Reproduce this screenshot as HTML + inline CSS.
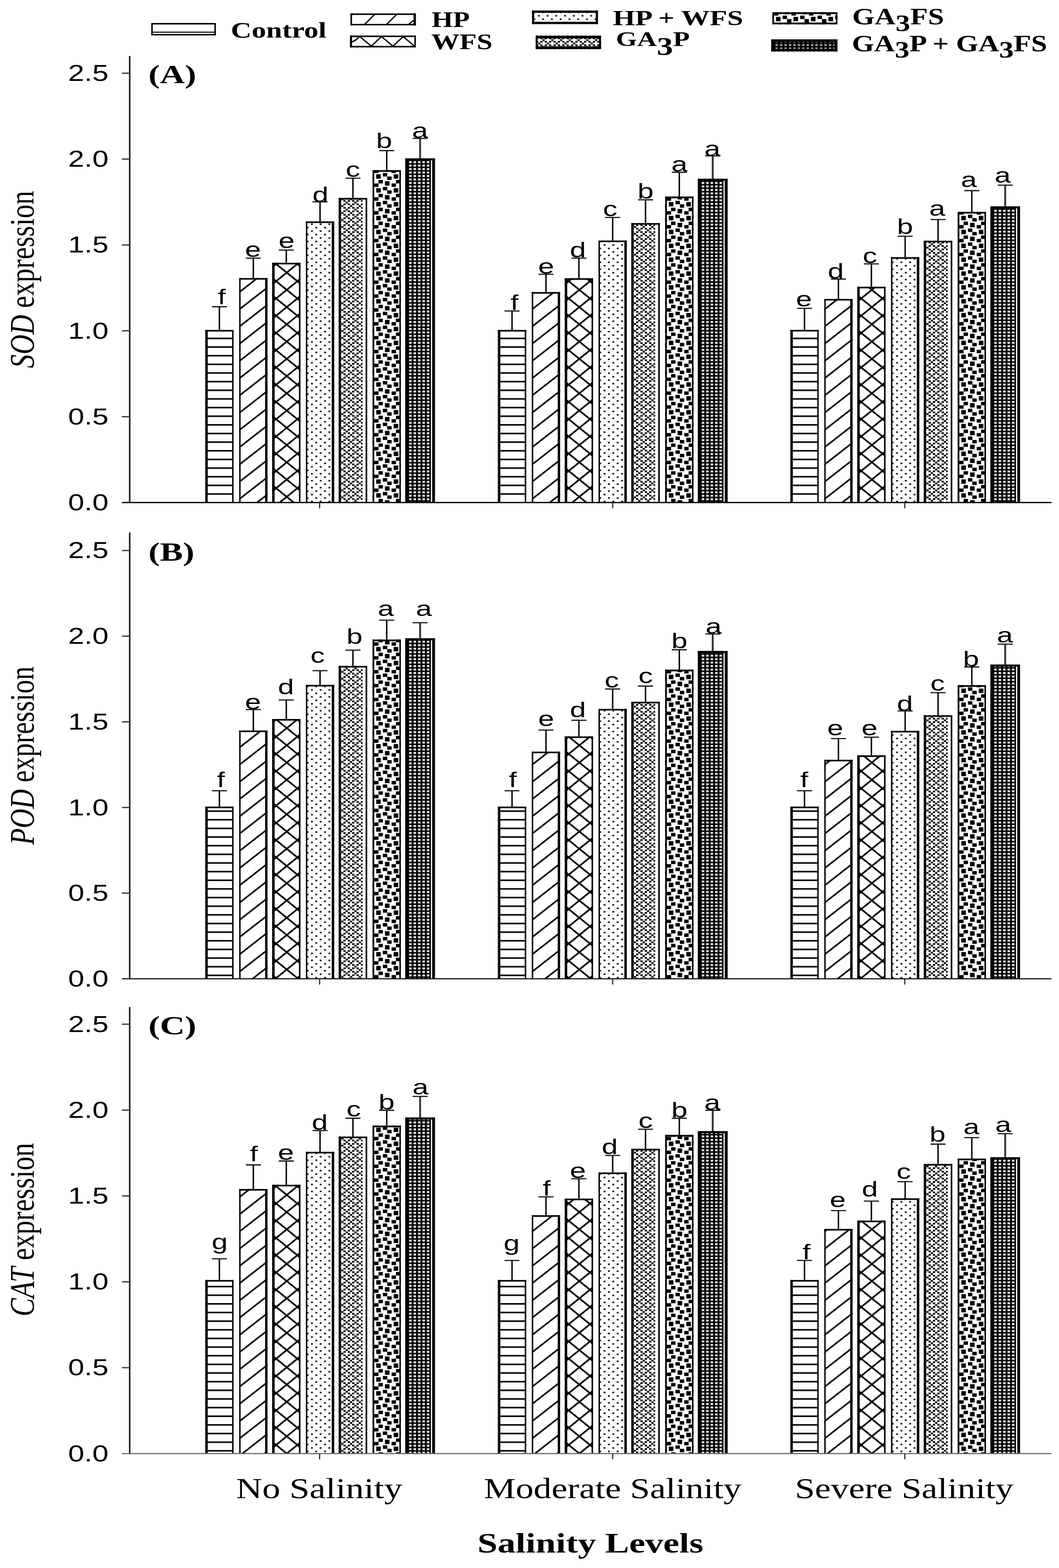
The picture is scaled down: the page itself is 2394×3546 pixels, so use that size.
<!DOCTYPE html>
<html lang="en"><head><meta charset="utf-8"><title>Antioxidant gene expression under salinity</title>
<style>html,body{margin:0;padding:0;background:#fff}svg{display:block}text{fill:#000}</style></head><body>
<svg width="2394" height="3546" viewBox="0 0 2394 3546">
<rect width="2394" height="3546" fill="#fff"/>
<defs>
<filter id="soft" filterUnits="userSpaceOnUse" x="0" y="0" width="2394" height="3546" color-interpolation-filters="sRGB"><feGaussianBlur stdDeviation="0.6"/></filter>
<pattern id="p0" patternUnits="userSpaceOnUse" x="0" y="-1.50" width="20" height="19.55"><rect x="0" y="0" width="20" height="3.5" fill="#000"/></pattern>
<pattern id="p1" patternUnits="userSpaceOnUse" x="0" y="-7.50" width="50.0" height="39.0"><path d="M-50.0,39.0 L50.0,-39.0 M0,39.0 L50.0,0 M0,78.0 L100.0,0" stroke="#000" stroke-width="3.7" fill="none"/></pattern>
<pattern id="p2" patternUnits="userSpaceOnUse" x="9.00" y="-32.50" width="48.0" height="39.0"><path d="M0,39.0 L48.0,0 M-24.0,19.5 L24.0,-19.5 M24.0,58.5 L72.0,19.5 M0,0 L48.0,39.0 M-24.0,19.5 L24.0,58.5 M24.0,-19.5 L72.0,19.5" stroke="#000" stroke-width="3.7" fill="none"/></pattern>
<pattern id="p3" patternUnits="userSpaceOnUse" x="1.30" y="-12.16" width="19.76" height="15.68"><rect x="0.4" y="0.3" width="4.14" height="3.32" fill="#000"/><rect x="10.28" y="8.14" width="4.14" height="3.32" fill="#000"/></pattern>
<pattern id="p4" patternUnits="userSpaceOnUse" x="0.90" y="-2.00" width="39.52" height="15.68"><g fill="#000"><rect x="0.00" y="0.00" width="4.94" height="3.92"/><rect x="9.88" y="0.00" width="4.94" height="3.92"/><rect x="19.76" y="0.00" width="4.94" height="3.92"/><rect x="29.64" y="0.00" width="4.94" height="3.92"/><rect x="4.94" y="3.92" width="4.94" height="3.92"/><rect x="24.70" y="3.92" width="4.94" height="3.92"/><rect x="0.00" y="7.84" width="4.94" height="3.92"/><rect x="9.88" y="7.84" width="4.94" height="3.92"/><rect x="19.76" y="7.84" width="4.94" height="3.92"/><rect x="29.64" y="7.84" width="4.94" height="3.92"/><rect x="14.82" y="11.76" width="4.94" height="3.92"/><rect x="34.58" y="11.76" width="4.94" height="3.92"/></g></pattern>
<pattern id="p5" patternUnits="userSpaceOnUse" x="8.50" y="-20.00" width="39.52" height="31.36"><g fill="#000"><rect x="-0.26" y="-1.08" width="10.40" height="10.00"/><rect x="-0.26" y="30.28" width="10.40" height="10.00"/><rect x="39.26" y="-1.08" width="10.40" height="10.00"/><rect x="39.26" y="30.28" width="10.40" height="10.00"/><rect x="14.76" y="-3.90" width="10.00" height="7.80"/><rect x="14.76" y="27.46" width="10.00" height="7.80"/><rect x="24.64" y="3.94" width="10.00" height="7.80"/><rect x="4.88" y="11.78" width="10.00" height="7.80"/><rect x="19.50" y="14.60" width="10.40" height="10.00"/><rect x="-5.00" y="19.62" width="10.00" height="7.80"/><rect x="34.52" y="19.62" width="10.00" height="7.80"/></g></pattern>
<pattern id="p6" patternUnits="userSpaceOnUse" x="6.49" y="-3.53" width="10.03" height="7.86"><rect x="0" y="0" width="10.03" height="7.86" fill="#000"/><rect x="2.21" y="1.73" width="5.6" height="4.4" fill="#f8f8f8"/></pattern>
</defs>
<g filter="url(#soft)">
<rect width="2394" height="3546" fill="#fff"/>
<svg x="341.9" y="52.0" width="146.2" height="28.2" viewBox="0 -28.2 146.2 28.2">
<rect x="0.0" y="-28.2" width="146.2" height="28.2" fill="#fff" />
<rect x="0" y="-8.6" width="146.2" height="2.4" fill="#000"/>
<rect x="0.0" y="-28.2" width="146.2" height="3.4" fill="#000" />
<rect x="0.0" y="-3.4" width="146.2" height="3.4" fill="#000" />
<rect x="0.0" y="-28.2" width="3.4" height="28.2" fill="#000" />
<rect x="142.8" y="-28.2" width="3.4" height="28.2" fill="#000" />
</svg>
<svg x="792.2" y="30.2" width="148.1" height="27.4" viewBox="0 -27.4 148.1 27.4">
<rect x="0.0" y="-27.4" width="148.1" height="27.4" fill="#fff" />
<path d="M30.6,-1 L56.1,-26.400000000000002 M80.3,-1 L105.8,-26.400000000000002 M129.4,-1 L148.0999999999999,-15.5" stroke="#000" stroke-width="3.0" fill="none"/><path d="M136.0999999999999,0 L148.0999999999999,-9 L148.0999999999999,0 Z M0,-27.400000000000002 L9,-27.400000000000002 L0,-19.400000000000002 Z" fill="#000"/><rect x="142.6999999999999" y="-27.400000000000002" width="5.4" height="27.400000000000002" fill="#000"/>
<rect x="0.0" y="-27.4" width="148.1" height="3.6" fill="#000" />
<rect x="0.0" y="-3.6" width="148.1" height="3.6" fill="#000" />
<rect x="0.0" y="-27.4" width="3.6" height="27.4" fill="#000" />
<rect x="144.5" y="-27.4" width="3.6" height="27.4" fill="#000" />
</svg>
<svg x="791.2" y="80.2" width="149.1" height="27.2" viewBox="0 -27.2 149.1 27.2">
<rect x="0.0" y="-27.2" width="149.1" height="27.2" fill="#fff" />
<path d="M0,-10.200000000000003 L12,-16.200000000000003 L22,-24.700000000000003 L48.2,-3 L71.1,-24.700000000000003 L97.2,-3 L120.2,-24.700000000000003 L145.7,-3" stroke="#000" stroke-width="3.0" fill="none"/><rect x="0" y="-27.200000000000003" width="4.6" height="27.200000000000003" fill="#000"/>
<rect x="0.0" y="-27.2" width="149.1" height="3.6" fill="#000" />
<rect x="0.0" y="-3.6" width="149.1" height="3.6" fill="#000" />
<rect x="0.0" y="-27.2" width="3.6" height="27.2" fill="#000" />
<rect x="145.5" y="-27.2" width="3.6" height="27.2" fill="#000" />
</svg>
<svg x="1202.4" y="23.6" width="149.5" height="31.1" viewBox="0 -31.1 149.5 31.1">
<rect x="0.0" y="-31.1" width="149.5" height="31.1" fill="#fff" />
<g transform="translate(2,-1)">
<rect x="-20.0" y="-51.1" width="189.5" height="71.1" fill="url(#p3)" />
</g>
<rect x="0.0" y="-31.1" width="149.5" height="5.4" fill="#000" />
<rect x="0.0" y="-5.4" width="149.5" height="5.4" fill="#000" />
<rect x="0.0" y="-31.1" width="5.2" height="31.1" fill="#000" />
<rect x="144.3" y="-31.1" width="5.2" height="31.1" fill="#000" />
</svg>
<svg x="1210.8" y="80.5" width="148.0" height="30.7" viewBox="0 -30.7 148.0 30.7">
<rect x="0.0" y="-30.7" width="148.0" height="30.7" fill="#fff" />
<g transform="translate(0,-1)">
<rect x="-20.0" y="-50.7" width="188.0" height="70.7" fill="url(#p4)" />
</g>
<rect x="0.0" y="-30.7" width="148.0" height="6.4" fill="#000" />
<rect x="0.0" y="-6.4" width="148.0" height="6.4" fill="#000" />
<rect x="0.0" y="-30.7" width="4.6" height="30.7" fill="#000" />
<rect x="143.4" y="-30.7" width="4.6" height="30.7" fill="#000" />
</svg>
<svg x="1746.0" y="27.6" width="147.2" height="27.6" viewBox="0 -27.6 147.2 27.6">
<rect x="0.0" y="-27.6" width="147.2" height="27.6" fill="#fff" />
<g transform="translate(0,4)">
<rect x="-20.0" y="-47.6" width="187.2" height="67.6" fill="url(#p5)" />
</g>
<rect x="0.0" y="-27.6" width="147.2" height="4.2" fill="#000" />
<rect x="0.0" y="-4.2" width="147.2" height="4.2" fill="#000" />
<rect x="0.0" y="-27.6" width="3.6" height="27.6" fill="#000" />
<rect x="143.6" y="-27.6" width="3.6" height="27.6" fill="#000" />
</svg>
<svg x="1743.4" y="89.0" width="149.8" height="27.6" viewBox="0 -27.6 149.8 27.6">
<rect x="0.0" y="-27.6" width="149.8" height="27.6" fill="#fff" />
<g transform="translate(1,0.5)">
<rect x="-20.0" y="-47.6" width="189.8" height="67.6" fill="url(#p6)" />
</g>
<rect x="0.0" y="-27.6" width="149.8" height="27.6" fill="#000" opacity="0.35"/>
<rect x="0.0" y="-27.6" width="149.8" height="6.0" fill="#000" />
<rect x="0.0" y="-6.0" width="149.8" height="6.0" fill="#000" />
<rect x="0.0" y="-27.6" width="6.5" height="27.6" fill="#000" />
<rect x="143.3" y="-27.6" width="6.5" height="27.6" fill="#000" />
</svg>
<text transform="translate(521.84,85.10) scale(1.3035,1.0)" xml:space="preserve"><tspan font-family='"Liberation Serif", serif' font-size="50" font-weight="bold" font-style="normal">Control</tspan></text>
<text transform="translate(975.83,61.20) scale(1.2282,1.0)" xml:space="preserve"><tspan font-family='"Liberation Serif", serif' font-size="50.5" font-weight="bold" font-style="normal">HP</tspan></text>
<text transform="translate(974.90,110.90) scale(1.2637,1.0)" xml:space="preserve"><tspan font-family='"Liberation Serif", serif' font-size="50.5" font-weight="bold" font-style="normal">WFS</tspan></text>
<text transform="translate(1385.39,57.20) scale(1.3216,1.0)" xml:space="preserve"><tspan font-family='"Liberation Serif", serif' font-size="49" font-weight="bold" font-style="normal">HP + WFS</tspan></text>
<text transform="translate(1392.31,104.10) scale(1.3124,1.0)" xml:space="preserve"><tspan font-family='"Liberation Serif", serif' font-size="47" font-weight="bold" font-style="normal">GA</tspan><tspan font-family='"Liberation Serif", serif' font-size="56" font-weight="bold" font-style="normal" dy="19.5">3</tspan><tspan font-family='"Liberation Serif", serif' font-size="47" font-weight="bold" font-style="normal" dy="-19.5">P</tspan></text>
<text transform="translate(1926.54,54.50) scale(1.2562,1.0)" xml:space="preserve"><tspan font-family='"Liberation Serif", serif' font-size="52" font-weight="bold" font-style="normal">GA</tspan><tspan font-family='"Liberation Serif", serif' font-size="53" font-weight="bold" font-style="normal" dy="15.5">3</tspan><tspan font-family='"Liberation Serif", serif' font-size="52" font-weight="bold" font-style="normal" dy="-15.5">FS</tspan></text>
<text transform="translate(1925.66,115.70) scale(1.2467,1.0)" xml:space="preserve"><tspan font-family='"Liberation Serif", serif' font-size="52" font-weight="bold" font-style="normal">GA</tspan><tspan font-family='"Liberation Serif", serif' font-size="53" font-weight="bold" font-style="normal" dy="14.5">3</tspan><tspan font-family='"Liberation Serif", serif' font-size="52" font-weight="bold" font-style="normal" dy="-14.5">P + GA</tspan><tspan font-family='"Liberation Serif", serif' font-size="53" font-weight="bold" font-style="normal" dy="14.5">3</tspan><tspan font-family='"Liberation Serif", serif' font-size="52" font-weight="bold" font-style="normal" dy="-14.5">FS</tspan></text>
<line x1="496.0" y1="693.6" x2="496.0" y2="748.9" stroke="#000" stroke-width="3.2"/>
<line x1="479.0" y1="693.6" x2="513.0" y2="693.6" stroke="#111" stroke-width="2.6"/>
<g transform="translate(464.0,1136.5)">
<rect x="0.0" y="-390.3" width="64.0" height="390.3" fill="#fff" />
<rect x="0.0" y="-390.3" width="64.0" height="390.3" fill="url(#p0)" />
<rect x="0.0" y="-390.3" width="5.6" height="390.3" fill="#000" />
<rect x="60.8" y="-390.3" width="3.2" height="390.3" fill="#000" />
<rect x="0.0" y="-390.3" width="64.0" height="3.6" fill="#000" />
</g>
<text transform="translate(501.3,687.9) scale(1.36,1)" font-family='"Liberation Sans", sans-serif' font-size="48" font-weight="normal" font-style="normal" text-anchor="middle" >f</text>
<line x1="572.7" y1="583.8" x2="572.7" y2="631.5" stroke="#000" stroke-width="3.2"/>
<line x1="555.7" y1="583.8" x2="589.7" y2="583.8" stroke="#111" stroke-width="2.6"/>
<g transform="translate(540.7,1136.5)">
<rect x="0.0" y="-507.7" width="64.0" height="507.7" fill="#fff" />
<rect x="0.0" y="-507.7" width="64.0" height="507.7" fill="url(#p1)" />
<rect x="0.0" y="-507.7" width="3.2" height="507.7" fill="#000" />
<rect x="58.6" y="-507.7" width="5.4" height="507.7" fill="#000" />
<rect x="0.0" y="-507.7" width="64.0" height="3.6" fill="#000" />
</g>
<text transform="translate(572.0,580.8) scale(1.36,1)" font-family='"Liberation Sans", sans-serif' font-size="48" font-weight="normal" font-style="normal" text-anchor="middle" >e</text>
<line x1="647.2" y1="565.5" x2="647.2" y2="597.0" stroke="#000" stroke-width="3.2"/>
<line x1="630.2" y1="565.5" x2="664.2" y2="565.5" stroke="#111" stroke-width="2.6"/>
<g transform="translate(615.2,1136.5)">
<rect x="0.0" y="-542.2" width="64.0" height="542.2" fill="#fff" />
<rect x="0.0" y="-542.2" width="64.0" height="542.2" fill="url(#p2)" />
<rect x="0.0" y="-542.2" width="5.6" height="542.2" fill="#000" />
<rect x="60.6" y="-542.2" width="3.4" height="542.2" fill="#000" />
<rect x="0.0" y="-542.2" width="64.0" height="3.6" fill="#000" />
</g>
<text transform="translate(647.8,560.5) scale(1.36,1)" font-family='"Liberation Sans", sans-serif' font-size="48" font-weight="normal" font-style="normal" text-anchor="middle" >e</text>
<line x1="723.5" y1="456.5" x2="723.5" y2="503.4" stroke="#000" stroke-width="3.2"/>
<line x1="706.5" y1="456.5" x2="740.5" y2="456.5" stroke="#111" stroke-width="2.6"/>
<g transform="translate(691.5,1136.5)">
<rect x="0.0" y="-635.8" width="64.0" height="635.8" fill="#fff" />
<rect x="0.0" y="-635.8" width="64.0" height="635.8" fill="url(#p3)" />
<rect x="0.0" y="-635.8" width="3.2" height="635.8" fill="#000" />
<rect x="58.4" y="-635.8" width="5.6" height="635.8" fill="#000" />
<rect x="0.0" y="-635.8" width="64.0" height="3.6" fill="#000" />
</g>
<text transform="translate(724.3,456.5) scale(1.36,1)" font-family='"Liberation Sans", sans-serif' font-size="48" font-weight="normal" font-style="normal" text-anchor="middle" >d</text>
<line x1="797.9" y1="403.0" x2="797.9" y2="450.4" stroke="#000" stroke-width="3.2"/>
<line x1="780.9" y1="403.0" x2="814.9" y2="403.0" stroke="#111" stroke-width="2.6"/>
<g transform="translate(765.6,1136.5)">
<rect x="0.0" y="-688.8" width="64.5" height="688.8" fill="#fff" />
<rect x="0.0" y="-688.8" width="54.0" height="688.8" fill="url(#p4)" />
<rect x="0.0" y="-688.8" width="5.2" height="688.8" fill="#000" />
<rect x="60.9" y="-688.8" width="3.6" height="688.8" fill="#000" />
<rect x="0.0" y="-688.8" width="64.5" height="3.6" fill="#000" />
</g>
<text transform="translate(797.7,399.9) scale(1.36,1)" font-family='"Liberation Sans", sans-serif' font-size="48" font-weight="normal" font-style="normal" text-anchor="middle" >c</text>
<line x1="874.2" y1="340.6" x2="874.2" y2="387.5" stroke="#000" stroke-width="3.2"/>
<line x1="857.2" y1="340.6" x2="891.2" y2="340.6" stroke="#111" stroke-width="2.6"/>
<g transform="translate(842.2,1136.5)">
<rect x="0.0" y="-751.7" width="64.0" height="751.7" fill="#fff" />
<rect x="0.0" y="-751.7" width="64.0" height="751.7" fill="url(#p5)" />
<rect x="0.0" y="-751.7" width="3.8" height="751.7" fill="#000" />
<rect x="60.6" y="-751.7" width="3.4" height="751.7" fill="#000" />
<rect x="0.0" y="-751.7" width="64.0" height="3.8" fill="#000" />
</g>
<text transform="translate(868.5,334.9) scale(1.36,1)" font-family='"Liberation Sans", sans-serif' font-size="48" font-weight="normal" font-style="normal" text-anchor="middle" >b</text>
<line x1="949.7" y1="313.0" x2="949.7" y2="360.8" stroke="#333" stroke-width="4.2"/>
<line x1="932.7" y1="313.0" x2="966.7" y2="313.0" stroke="#111" stroke-width="2.6"/>
<g transform="translate(916.2,1136.5)">
<rect x="0.0" y="-778.4" width="67.0" height="778.4" fill="#fff" />
<rect x="0.0" y="-778.4" width="67.0" height="778.4" fill="#000" />
<rect x="7.0" y="-778.4" width="49.5" height="778.4" fill="url(#p6)" />
<rect x="57.9" y="-778.4" width="3.0" height="778.4" fill="#fff" />
<rect x="0.0" y="-778.4" width="7.5" height="778.4" fill="#000" />
<rect x="61.0" y="-778.4" width="6.0" height="778.4" fill="#000" />
<rect x="0.0" y="-778.4" width="67.0" height="4.5" fill="#000" />
</g>
<text transform="translate(949.5,312.0) scale(1.36,1)" font-family='"Liberation Sans", sans-serif' font-size="48" font-weight="normal" font-style="normal" text-anchor="middle" >a</text>
<line x1="1157.5" y1="703.2" x2="1157.5" y2="748.9" stroke="#000" stroke-width="3.2"/>
<line x1="1140.5" y1="703.2" x2="1174.5" y2="703.2" stroke="#111" stroke-width="2.6"/>
<g transform="translate(1125.5,1136.5)">
<rect x="0.0" y="-390.3" width="64.0" height="390.3" fill="#fff" />
<rect x="0.0" y="-390.3" width="64.0" height="390.3" fill="url(#p0)" />
<rect x="0.0" y="-390.3" width="5.6" height="390.3" fill="#000" />
<rect x="60.8" y="-390.3" width="3.2" height="390.3" fill="#000" />
<rect x="0.0" y="-390.3" width="64.0" height="3.6" fill="#000" />
</g>
<text transform="translate(1163.1,701.2) scale(1.36,1)" font-family='"Liberation Sans", sans-serif' font-size="48" font-weight="normal" font-style="normal" text-anchor="middle" >f</text>
<line x1="1234.2" y1="620.2" x2="1234.2" y2="663.2" stroke="#000" stroke-width="3.2"/>
<line x1="1217.2" y1="620.2" x2="1251.2" y2="620.2" stroke="#111" stroke-width="2.6"/>
<g transform="translate(1202.2,1136.5)">
<rect x="0.0" y="-476.0" width="64.0" height="476.0" fill="#fff" />
<rect x="0.0" y="-476.0" width="64.0" height="476.0" fill="url(#p1)" />
<rect x="0.0" y="-476.0" width="3.2" height="476.0" fill="#000" />
<rect x="58.6" y="-476.0" width="5.4" height="476.0" fill="#000" />
<rect x="0.0" y="-476.0" width="64.0" height="3.6" fill="#000" />
</g>
<text transform="translate(1234.6,619.0) scale(1.36,1)" font-family='"Liberation Sans", sans-serif' font-size="48" font-weight="normal" font-style="normal" text-anchor="middle" >e</text>
<line x1="1308.7" y1="583.8" x2="1308.7" y2="631.9" stroke="#000" stroke-width="3.2"/>
<line x1="1291.7" y1="583.8" x2="1325.7" y2="583.8" stroke="#111" stroke-width="2.6"/>
<g transform="translate(1276.7,1136.5)">
<rect x="0.0" y="-507.3" width="64.0" height="507.3" fill="#fff" />
<rect x="0.0" y="-507.3" width="64.0" height="507.3" fill="url(#p2)" />
<rect x="0.0" y="-507.3" width="5.6" height="507.3" fill="#000" />
<rect x="60.6" y="-507.3" width="3.4" height="507.3" fill="#000" />
<rect x="0.0" y="-507.3" width="64.0" height="3.6" fill="#000" />
</g>
<text transform="translate(1306.5,581.9) scale(1.36,1)" font-family='"Liberation Sans", sans-serif' font-size="48" font-weight="normal" font-style="normal" text-anchor="middle" >d</text>
<line x1="1385.0" y1="491.7" x2="1385.0" y2="546.6" stroke="#000" stroke-width="3.2"/>
<line x1="1368.0" y1="491.7" x2="1402.0" y2="491.7" stroke="#111" stroke-width="2.6"/>
<g transform="translate(1353.0,1136.5)">
<rect x="0.0" y="-592.6" width="64.0" height="592.6" fill="#fff" />
<rect x="0.0" y="-592.6" width="64.0" height="592.6" fill="url(#p3)" />
<rect x="0.0" y="-592.6" width="3.2" height="592.6" fill="#000" />
<rect x="58.4" y="-592.6" width="5.6" height="592.6" fill="#000" />
<rect x="0.0" y="-592.6" width="64.0" height="3.6" fill="#000" />
</g>
<text transform="translate(1379.2,489.0) scale(1.36,1)" font-family='"Liberation Sans", sans-serif' font-size="48" font-weight="normal" font-style="normal" text-anchor="middle" >c</text>
<line x1="1459.3" y1="451.9" x2="1459.3" y2="507.2" stroke="#000" stroke-width="3.2"/>
<line x1="1442.3" y1="451.9" x2="1476.3" y2="451.9" stroke="#111" stroke-width="2.6"/>
<g transform="translate(1427.1,1136.5)">
<rect x="0.0" y="-632.0" width="64.5" height="632.0" fill="#fff" />
<rect x="0.0" y="-632.0" width="54.0" height="632.0" fill="url(#p4)" />
<rect x="0.0" y="-632.0" width="5.2" height="632.0" fill="#000" />
<rect x="60.9" y="-632.0" width="3.6" height="632.0" fill="#000" />
<rect x="0.0" y="-632.0" width="64.5" height="3.6" fill="#000" />
</g>
<text transform="translate(1459.5,448.9) scale(1.36,1)" font-family='"Liberation Sans", sans-serif' font-size="48" font-weight="normal" font-style="normal" text-anchor="middle" >b</text>
<line x1="1535.7" y1="389.6" x2="1535.7" y2="447.2" stroke="#000" stroke-width="3.2"/>
<line x1="1518.7" y1="389.6" x2="1552.7" y2="389.6" stroke="#111" stroke-width="2.6"/>
<g transform="translate(1503.7,1136.5)">
<rect x="0.0" y="-692.0" width="64.0" height="692.0" fill="#fff" />
<rect x="0.0" y="-692.0" width="64.0" height="692.0" fill="url(#p5)" />
<rect x="0.0" y="-692.0" width="3.8" height="692.0" fill="#000" />
<rect x="60.6" y="-692.0" width="3.4" height="692.0" fill="#000" />
<rect x="0.0" y="-692.0" width="64.0" height="3.8" fill="#000" />
</g>
<text transform="translate(1536.0,388.4) scale(1.36,1)" font-family='"Liberation Sans", sans-serif' font-size="48" font-weight="normal" font-style="normal" text-anchor="middle" >a</text>
<line x1="1611.2" y1="352.5" x2="1611.2" y2="407.0" stroke="#333" stroke-width="4.2"/>
<line x1="1594.2" y1="352.5" x2="1628.2" y2="352.5" stroke="#111" stroke-width="2.6"/>
<g transform="translate(1577.7,1136.5)">
<rect x="0.0" y="-732.2" width="67.0" height="732.2" fill="#fff" />
<rect x="0.0" y="-732.2" width="67.0" height="732.2" fill="#000" />
<rect x="7.0" y="-732.2" width="49.5" height="732.2" fill="url(#p6)" />
<rect x="57.9" y="-732.2" width="3.0" height="732.2" fill="#fff" />
<rect x="0.0" y="-732.2" width="7.5" height="732.2" fill="#000" />
<rect x="61.0" y="-732.2" width="6.0" height="732.2" fill="#000" />
<rect x="0.0" y="-732.2" width="67.0" height="4.5" fill="#000" />
</g>
<text transform="translate(1610.5,352.5) scale(1.36,1)" font-family='"Liberation Sans", sans-serif' font-size="48" font-weight="normal" font-style="normal" text-anchor="middle" >a</text>
<line x1="1818.7" y1="697.2" x2="1818.7" y2="748.7" stroke="#000" stroke-width="3.2"/>
<line x1="1801.7" y1="697.2" x2="1835.7" y2="697.2" stroke="#111" stroke-width="2.6"/>
<g transform="translate(1786.7,1136.5)">
<rect x="0.0" y="-390.5" width="64.0" height="390.5" fill="#fff" />
<rect x="0.0" y="-390.5" width="64.0" height="390.5" fill="url(#p0)" />
<rect x="0.0" y="-390.5" width="5.6" height="390.5" fill="#000" />
<rect x="60.8" y="-390.5" width="3.2" height="390.5" fill="#000" />
<rect x="0.0" y="-390.5" width="64.0" height="3.6" fill="#000" />
</g>
<text transform="translate(1817.4,693.4) scale(1.36,1)" font-family='"Liberation Sans", sans-serif' font-size="48" font-weight="normal" font-style="normal" text-anchor="middle" >e</text>
<line x1="1895.4" y1="631.1" x2="1895.4" y2="678.7" stroke="#000" stroke-width="3.2"/>
<line x1="1878.4" y1="631.1" x2="1912.4" y2="631.1" stroke="#111" stroke-width="2.6"/>
<g transform="translate(1863.4,1136.5)">
<rect x="0.0" y="-460.5" width="64.0" height="460.5" fill="#fff" />
<rect x="0.0" y="-460.5" width="64.0" height="460.5" fill="url(#p1)" />
<rect x="0.0" y="-460.5" width="3.2" height="460.5" fill="#000" />
<rect x="58.6" y="-460.5" width="5.4" height="460.5" fill="#000" />
<rect x="0.0" y="-460.5" width="64.0" height="3.6" fill="#000" />
</g>
<text transform="translate(1889.3,629.9) scale(1.36,1)" font-family='"Liberation Sans", sans-serif' font-size="48" font-weight="normal" font-style="normal" text-anchor="middle" >d</text>
<line x1="1969.9" y1="596.7" x2="1969.9" y2="651.2" stroke="#000" stroke-width="3.2"/>
<line x1="1952.9" y1="596.7" x2="1986.9" y2="596.7" stroke="#111" stroke-width="2.6"/>
<g transform="translate(1937.9,1136.5)">
<rect x="0.0" y="-488.0" width="64.0" height="488.0" fill="#fff" />
<rect x="0.0" y="-488.0" width="64.0" height="488.0" fill="url(#p2)" />
<rect x="0.0" y="-488.0" width="5.6" height="488.0" fill="#000" />
<rect x="60.6" y="-488.0" width="3.4" height="488.0" fill="#000" />
<rect x="0.0" y="-488.0" width="64.0" height="3.6" fill="#000" />
</g>
<text transform="translate(1966.5,594.7) scale(1.36,1)" font-family='"Liberation Sans", sans-serif' font-size="48" font-weight="normal" font-style="normal" text-anchor="middle" >c</text>
<line x1="2046.2" y1="534.3" x2="2046.2" y2="584.3" stroke="#000" stroke-width="3.2"/>
<line x1="2029.2" y1="534.3" x2="2063.2" y2="534.3" stroke="#111" stroke-width="2.6"/>
<g transform="translate(2014.2,1136.5)">
<rect x="0.0" y="-554.9" width="64.0" height="554.9" fill="#fff" />
<rect x="0.0" y="-554.9" width="64.0" height="554.9" fill="url(#p3)" />
<rect x="0.0" y="-554.9" width="3.2" height="554.9" fill="#000" />
<rect x="58.4" y="-554.9" width="5.6" height="554.9" fill="#000" />
<rect x="0.0" y="-554.9" width="64.0" height="3.6" fill="#000" />
</g>
<text transform="translate(2046.0,529.0) scale(1.36,1)" font-family='"Liberation Sans", sans-serif' font-size="48" font-weight="normal" font-style="normal" text-anchor="middle" >b</text>
<line x1="2120.6" y1="496.5" x2="2120.6" y2="547.2" stroke="#000" stroke-width="3.2"/>
<line x1="2103.6" y1="496.5" x2="2137.6" y2="496.5" stroke="#111" stroke-width="2.6"/>
<g transform="translate(2088.3,1136.5)">
<rect x="0.0" y="-592.0" width="64.5" height="592.0" fill="#fff" />
<rect x="0.0" y="-592.0" width="54.0" height="592.0" fill="url(#p4)" />
<rect x="0.0" y="-592.0" width="5.2" height="592.0" fill="#000" />
<rect x="60.9" y="-592.0" width="3.6" height="592.0" fill="#000" />
<rect x="0.0" y="-592.0" width="64.5" height="3.6" fill="#000" />
</g>
<text transform="translate(2118.7,488.4) scale(1.36,1)" font-family='"Liberation Sans", sans-serif' font-size="48" font-weight="normal" font-style="normal" text-anchor="middle" >a</text>
<line x1="2196.9" y1="431.1" x2="2196.9" y2="481.8" stroke="#000" stroke-width="3.2"/>
<line x1="2179.9" y1="431.1" x2="2213.9" y2="431.1" stroke="#111" stroke-width="2.6"/>
<g transform="translate(2164.9,1136.5)">
<rect x="0.0" y="-657.4" width="64.0" height="657.4" fill="#fff" />
<rect x="0.0" y="-657.4" width="64.0" height="657.4" fill="url(#p5)" />
<rect x="0.0" y="-657.4" width="3.8" height="657.4" fill="#000" />
<rect x="60.6" y="-657.4" width="3.4" height="657.4" fill="#000" />
<rect x="0.0" y="-657.4" width="64.0" height="3.8" fill="#000" />
</g>
<text transform="translate(2190.2,422.7) scale(1.36,1)" font-family='"Liberation Sans", sans-serif' font-size="48" font-weight="normal" font-style="normal" text-anchor="middle" >a</text>
<line x1="2272.4" y1="418.8" x2="2272.4" y2="469.5" stroke="#333" stroke-width="4.2"/>
<line x1="2255.4" y1="418.8" x2="2289.4" y2="418.8" stroke="#111" stroke-width="2.6"/>
<g transform="translate(2238.9,1136.5)">
<rect x="0.0" y="-669.7" width="67.0" height="669.7" fill="#fff" />
<rect x="0.0" y="-669.7" width="67.0" height="669.7" fill="#000" />
<rect x="7.0" y="-669.7" width="49.5" height="669.7" fill="url(#p6)" />
<rect x="57.9" y="-669.7" width="3.0" height="669.7" fill="#fff" />
<rect x="0.0" y="-669.7" width="7.5" height="669.7" fill="#000" />
<rect x="61.0" y="-669.7" width="6.0" height="669.7" fill="#000" />
<rect x="0.0" y="-669.7" width="67.0" height="4.5" fill="#000" />
</g>
<text transform="translate(2266.7,413.1) scale(1.36,1)" font-family='"Liberation Sans", sans-serif' font-size="48" font-weight="normal" font-style="normal" text-anchor="middle" >a</text>
<line x1="293.2" y1="126.8" x2="293.2" y2="1138.0" stroke="#1a1a1a" stroke-width="3.4"/>
<line x1="275.7" y1="1136.5" x2="2377.0" y2="1136.5" stroke="#0a0a0a" stroke-width="3.0"/>
<text transform="translate(245.2,1153.9) scale(1.275,1)" font-family='"Liberation Sans", sans-serif' font-size="51.5" font-weight="normal" font-style="normal" text-anchor="end" >0.0</text>
<line x1="275.7" y1="942.3" x2="293.0" y2="942.3" stroke="#333" stroke-width="2.8"/>
<text transform="translate(245.2,959.7) scale(1.275,1)" font-family='"Liberation Sans", sans-serif' font-size="51.5" font-weight="normal" font-style="normal" text-anchor="end" >0.5</text>
<line x1="275.7" y1="748.1" x2="293.0" y2="748.1" stroke="#333" stroke-width="2.8"/>
<text transform="translate(245.2,765.5) scale(1.275,1)" font-family='"Liberation Sans", sans-serif' font-size="51.5" font-weight="normal" font-style="normal" text-anchor="end" >1.0</text>
<line x1="275.7" y1="554.0" x2="293.0" y2="554.0" stroke="#333" stroke-width="2.8"/>
<text transform="translate(245.2,571.4) scale(1.275,1)" font-family='"Liberation Sans", sans-serif' font-size="51.5" font-weight="normal" font-style="normal" text-anchor="end" >1.5</text>
<line x1="275.7" y1="359.8" x2="293.0" y2="359.8" stroke="#333" stroke-width="2.8"/>
<text transform="translate(245.2,377.2) scale(1.275,1)" font-family='"Liberation Sans", sans-serif' font-size="51.5" font-weight="normal" font-style="normal" text-anchor="end" >2.0</text>
<line x1="275.7" y1="165.6" x2="293.0" y2="165.6" stroke="#333" stroke-width="2.8"/>
<text transform="translate(245.2,183.0) scale(1.275,1)" font-family='"Liberation Sans", sans-serif' font-size="51.5" font-weight="normal" font-style="normal" text-anchor="end" >2.5</text>
<line x1="722.5" y1="1136.5" x2="722.5" y2="1149.5" stroke="#333" stroke-width="2.8"/>
<line x1="1385.0" y1="1136.5" x2="1385.0" y2="1149.5" stroke="#333" stroke-width="2.8"/>
<line x1="2045.3" y1="1136.5" x2="2045.3" y2="1149.5" stroke="#333" stroke-width="2.8"/>
<text transform="translate(335.5,188.1) scale(1.3,1)" font-family='"Liberation Serif", serif' font-size="60" font-weight="bold" font-style="normal" text-anchor="start" >(A)</text>
<text transform="translate(76.00,832.60) rotate(-90) scale(0.9995,1.275)" xml:space="preserve"><tspan font-family='"Liberation Serif", serif' font-size="62" font-weight="normal" font-style="italic">SOD</tspan><tspan font-family='"Liberation Serif", serif' font-size="62" font-weight="normal" font-style="normal"> expression</tspan></text>
<line x1="496.0" y1="1788.3" x2="496.0" y2="1826.8" stroke="#000" stroke-width="3.2"/>
<line x1="479.0" y1="1788.3" x2="513.0" y2="1788.3" stroke="#111" stroke-width="2.6"/>
<g transform="translate(464.0,2205.5)">
<rect x="0.0" y="-381.4" width="64.0" height="389.4" fill="#fff" />
<rect x="0.0" y="-381.4" width="64.0" height="389.4" fill="url(#p0)" />
<rect x="0.0" y="-381.4" width="5.6" height="389.4" fill="#000" />
<rect x="60.8" y="-381.4" width="3.2" height="389.4" fill="#000" />
<rect x="0.0" y="-381.4" width="64.0" height="3.6" fill="#000" />
</g>
<text transform="translate(499.3,1779.9) scale(1.36,1)" font-family='"Liberation Sans", sans-serif' font-size="48" font-weight="normal" font-style="normal" text-anchor="middle" >f</text>
<line x1="572.7" y1="1604.8" x2="572.7" y2="1654.7" stroke="#000" stroke-width="3.2"/>
<line x1="555.7" y1="1604.8" x2="589.7" y2="1604.8" stroke="#111" stroke-width="2.6"/>
<g transform="translate(540.7,2205.5)">
<rect x="0.0" y="-553.5" width="64.0" height="561.5" fill="#fff" />
<rect x="0.0" y="-553.5" width="64.0" height="561.5" fill="url(#p1)" />
<rect x="0.0" y="-553.5" width="3.2" height="561.5" fill="#000" />
<rect x="58.6" y="-553.5" width="5.4" height="561.5" fill="#000" />
<rect x="0.0" y="-553.5" width="64.0" height="3.6" fill="#000" />
</g>
<text transform="translate(571.9,1604.0) scale(1.36,1)" font-family='"Liberation Sans", sans-serif' font-size="48" font-weight="normal" font-style="normal" text-anchor="middle" >e</text>
<line x1="647.2" y1="1583.0" x2="647.2" y2="1628.7" stroke="#000" stroke-width="3.2"/>
<line x1="630.2" y1="1583.0" x2="664.2" y2="1583.0" stroke="#111" stroke-width="2.6"/>
<g transform="translate(615.2,2205.5)">
<rect x="0.0" y="-579.5" width="64.0" height="587.5" fill="#fff" />
<rect x="0.0" y="-579.5" width="64.0" height="587.5" fill="url(#p2)" />
<rect x="0.0" y="-579.5" width="5.6" height="587.5" fill="#000" />
<rect x="60.6" y="-579.5" width="3.4" height="587.5" fill="#000" />
<rect x="0.0" y="-579.5" width="64.0" height="3.6" fill="#000" />
</g>
<text transform="translate(646.5,1569.6) scale(1.36,1)" font-family='"Liberation Sans", sans-serif' font-size="48" font-weight="normal" font-style="normal" text-anchor="middle" >d</text>
<line x1="723.5" y1="1516.8" x2="723.5" y2="1551.5" stroke="#000" stroke-width="3.2"/>
<line x1="706.5" y1="1516.8" x2="740.5" y2="1516.8" stroke="#111" stroke-width="2.6"/>
<g transform="translate(691.5,2205.5)">
<rect x="0.0" y="-656.7" width="64.0" height="664.7" fill="#fff" />
<rect x="0.0" y="-656.7" width="64.0" height="664.7" fill="url(#p3)" />
<rect x="0.0" y="-656.7" width="3.2" height="664.7" fill="#000" />
<rect x="58.4" y="-656.7" width="5.6" height="664.7" fill="#000" />
<rect x="0.0" y="-656.7" width="64.0" height="3.6" fill="#000" />
</g>
<text transform="translate(718.0,1498.9) scale(1.36,1)" font-family='"Liberation Sans", sans-serif' font-size="48" font-weight="normal" font-style="normal" text-anchor="middle" >c</text>
<line x1="797.9" y1="1470.2" x2="797.9" y2="1508.6" stroke="#000" stroke-width="3.2"/>
<line x1="780.9" y1="1470.2" x2="814.9" y2="1470.2" stroke="#111" stroke-width="2.6"/>
<g transform="translate(765.6,2205.5)">
<rect x="0.0" y="-699.6" width="64.5" height="707.6" fill="#fff" />
<rect x="0.0" y="-699.6" width="54.0" height="707.6" fill="url(#p4)" />
<rect x="0.0" y="-699.6" width="5.2" height="707.6" fill="#000" />
<rect x="60.9" y="-699.6" width="3.6" height="707.6" fill="#000" />
<rect x="0.0" y="-699.6" width="64.5" height="3.6" fill="#000" />
</g>
<text transform="translate(801.4,1456.0) scale(1.36,1)" font-family='"Liberation Sans", sans-serif' font-size="48" font-weight="normal" font-style="normal" text-anchor="middle" >b</text>
<line x1="874.2" y1="1402.5" x2="874.2" y2="1449.0" stroke="#000" stroke-width="3.2"/>
<line x1="857.2" y1="1402.5" x2="891.2" y2="1402.5" stroke="#111" stroke-width="2.6"/>
<g transform="translate(842.2,2205.5)">
<rect x="0.0" y="-759.2" width="64.0" height="767.2" fill="#fff" />
<rect x="0.0" y="-759.2" width="64.0" height="767.2" fill="url(#p5)" />
<rect x="0.0" y="-759.2" width="3.8" height="767.2" fill="#000" />
<rect x="60.6" y="-759.2" width="3.4" height="767.2" fill="#000" />
<rect x="0.0" y="-759.2" width="64.0" height="3.8" fill="#000" />
</g>
<text transform="translate(872.1,1392.9) scale(1.36,1)" font-family='"Liberation Sans", sans-serif' font-size="48" font-weight="normal" font-style="normal" text-anchor="middle" >a</text>
<line x1="949.7" y1="1408.2" x2="949.7" y2="1446.3" stroke="#333" stroke-width="4.2"/>
<line x1="932.7" y1="1408.2" x2="966.7" y2="1408.2" stroke="#111" stroke-width="2.6"/>
<g transform="translate(916.2,2205.5)">
<rect x="0.0" y="-761.9" width="67.0" height="769.9" fill="#fff" />
<rect x="0.0" y="-761.9" width="67.0" height="769.9" fill="#000" />
<rect x="7.0" y="-761.9" width="49.5" height="769.9" fill="url(#p6)" />
<rect x="57.9" y="-761.9" width="3.0" height="769.9" fill="#fff" />
<rect x="0.0" y="-761.9" width="7.5" height="769.9" fill="#000" />
<rect x="61.0" y="-761.9" width="6.0" height="769.9" fill="#000" />
<rect x="0.0" y="-761.9" width="67.0" height="4.5" fill="#000" />
</g>
<text transform="translate(958.2,1392.9) scale(1.36,1)" font-family='"Liberation Sans", sans-serif' font-size="48" font-weight="normal" font-style="normal" text-anchor="middle" >a</text>
<line x1="1157.5" y1="1788.3" x2="1157.5" y2="1826.8" stroke="#000" stroke-width="3.2"/>
<line x1="1140.5" y1="1788.3" x2="1174.5" y2="1788.3" stroke="#111" stroke-width="2.6"/>
<g transform="translate(1125.5,2205.5)">
<rect x="0.0" y="-381.4" width="64.0" height="389.4" fill="#fff" />
<rect x="0.0" y="-381.4" width="64.0" height="389.4" fill="url(#p0)" />
<rect x="0.0" y="-381.4" width="5.6" height="389.4" fill="#000" />
<rect x="60.8" y="-381.4" width="3.2" height="389.4" fill="#000" />
<rect x="0.0" y="-381.4" width="64.0" height="3.6" fill="#000" />
</g>
<text transform="translate(1159.3,1779.9) scale(1.36,1)" font-family='"Liberation Sans", sans-serif' font-size="48" font-weight="normal" font-style="normal" text-anchor="middle" >f</text>
<line x1="1234.2" y1="1651.0" x2="1234.2" y2="1702.5" stroke="#000" stroke-width="3.2"/>
<line x1="1217.2" y1="1651.0" x2="1251.2" y2="1651.0" stroke="#111" stroke-width="2.6"/>
<g transform="translate(1202.2,2205.5)">
<rect x="0.0" y="-505.7" width="64.0" height="513.7" fill="#fff" />
<rect x="0.0" y="-505.7" width="64.0" height="513.7" fill="url(#p1)" />
<rect x="0.0" y="-505.7" width="3.2" height="513.7" fill="#000" />
<rect x="58.6" y="-505.7" width="5.4" height="513.7" fill="#000" />
<rect x="0.0" y="-505.7" width="64.0" height="3.6" fill="#000" />
</g>
<text transform="translate(1234.6,1641.5) scale(1.36,1)" font-family='"Liberation Sans", sans-serif' font-size="48" font-weight="normal" font-style="normal" text-anchor="middle" >e</text>
<line x1="1308.7" y1="1628.9" x2="1308.7" y2="1668.1" stroke="#000" stroke-width="3.2"/>
<line x1="1291.7" y1="1628.9" x2="1325.7" y2="1628.9" stroke="#111" stroke-width="2.6"/>
<g transform="translate(1276.7,2205.5)">
<rect x="0.0" y="-540.1" width="64.0" height="548.1" fill="#fff" />
<rect x="0.0" y="-540.1" width="64.0" height="548.1" fill="url(#p2)" />
<rect x="0.0" y="-540.1" width="5.6" height="548.1" fill="#000" />
<rect x="60.6" y="-540.1" width="3.4" height="548.1" fill="#000" />
<rect x="0.0" y="-540.1" width="64.0" height="3.6" fill="#000" />
</g>
<text transform="translate(1306.5,1622.4) scale(1.36,1)" font-family='"Liberation Sans", sans-serif' font-size="48" font-weight="normal" font-style="normal" text-anchor="middle" >d</text>
<line x1="1385.0" y1="1558.1" x2="1385.0" y2="1605.8" stroke="#000" stroke-width="3.2"/>
<line x1="1368.0" y1="1558.1" x2="1402.0" y2="1558.1" stroke="#111" stroke-width="2.6"/>
<g transform="translate(1353.0,2205.5)">
<rect x="0.0" y="-602.4" width="64.0" height="610.4" fill="#fff" />
<rect x="0.0" y="-602.4" width="64.0" height="610.4" fill="url(#p3)" />
<rect x="0.0" y="-602.4" width="3.2" height="610.4" fill="#000" />
<rect x="58.4" y="-602.4" width="5.6" height="610.4" fill="#000" />
<rect x="0.0" y="-602.4" width="64.0" height="3.6" fill="#000" />
</g>
<text transform="translate(1383.0,1555.4) scale(1.36,1)" font-family='"Liberation Sans", sans-serif' font-size="48" font-weight="normal" font-style="normal" text-anchor="middle" >c</text>
<line x1="1459.3" y1="1551.6" x2="1459.3" y2="1589.7" stroke="#000" stroke-width="3.2"/>
<line x1="1442.3" y1="1551.6" x2="1476.3" y2="1551.6" stroke="#111" stroke-width="2.6"/>
<g transform="translate(1427.1,2205.5)">
<rect x="0.0" y="-618.5" width="64.5" height="626.5" fill="#fff" />
<rect x="0.0" y="-618.5" width="54.0" height="626.5" fill="url(#p4)" />
<rect x="0.0" y="-618.5" width="5.2" height="626.5" fill="#000" />
<rect x="60.9" y="-618.5" width="3.6" height="626.5" fill="#000" />
<rect x="0.0" y="-618.5" width="64.5" height="3.6" fill="#000" />
</g>
<text transform="translate(1459.5,1544.7) scale(1.36,1)" font-family='"Liberation Sans", sans-serif' font-size="48" font-weight="normal" font-style="normal" text-anchor="middle" >c</text>
<line x1="1535.7" y1="1469.4" x2="1535.7" y2="1517.1" stroke="#000" stroke-width="3.2"/>
<line x1="1518.7" y1="1469.4" x2="1552.7" y2="1469.4" stroke="#111" stroke-width="2.6"/>
<g transform="translate(1503.7,2205.5)">
<rect x="0.0" y="-691.1" width="64.0" height="699.1" fill="#fff" />
<rect x="0.0" y="-691.1" width="64.0" height="699.1" fill="url(#p5)" />
<rect x="0.0" y="-691.1" width="3.8" height="699.1" fill="#000" />
<rect x="60.6" y="-691.1" width="3.4" height="699.1" fill="#000" />
<rect x="0.0" y="-691.1" width="64.0" height="3.8" fill="#000" />
</g>
<text transform="translate(1536.0,1466.3) scale(1.36,1)" font-family='"Liberation Sans", sans-serif' font-size="48" font-weight="normal" font-style="normal" text-anchor="middle" >b</text>
<line x1="1611.2" y1="1433.8" x2="1611.2" y2="1475.0" stroke="#333" stroke-width="4.2"/>
<line x1="1594.2" y1="1433.8" x2="1628.2" y2="1433.8" stroke="#111" stroke-width="2.6"/>
<g transform="translate(1577.7,2205.5)">
<rect x="0.0" y="-733.2" width="67.0" height="741.2" fill="#fff" />
<rect x="0.0" y="-733.2" width="67.0" height="741.2" fill="#000" />
<rect x="7.0" y="-733.2" width="49.5" height="741.2" fill="url(#p6)" />
<rect x="57.9" y="-733.2" width="3.0" height="741.2" fill="#fff" />
<rect x="0.0" y="-733.2" width="7.5" height="741.2" fill="#000" />
<rect x="61.0" y="-733.2" width="6.0" height="741.2" fill="#000" />
<rect x="0.0" y="-733.2" width="67.0" height="4.5" fill="#000" />
</g>
<text transform="translate(1613.2,1433.1) scale(1.36,1)" font-family='"Liberation Sans", sans-serif' font-size="48" font-weight="normal" font-style="normal" text-anchor="middle" >a</text>
<line x1="1818.7" y1="1788.3" x2="1818.7" y2="1826.8" stroke="#000" stroke-width="3.2"/>
<line x1="1801.7" y1="1788.3" x2="1835.7" y2="1788.3" stroke="#111" stroke-width="2.6"/>
<g transform="translate(1786.7,2205.5)">
<rect x="0.0" y="-381.4" width="64.0" height="389.4" fill="#fff" />
<rect x="0.0" y="-381.4" width="64.0" height="389.4" fill="url(#p0)" />
<rect x="0.0" y="-381.4" width="5.6" height="389.4" fill="#000" />
<rect x="60.8" y="-381.4" width="3.2" height="389.4" fill="#000" />
<rect x="0.0" y="-381.4" width="64.0" height="3.6" fill="#000" />
</g>
<text transform="translate(1818.1,1779.9) scale(1.36,1)" font-family='"Liberation Sans", sans-serif' font-size="48" font-weight="normal" font-style="normal" text-anchor="middle" >f</text>
<line x1="1895.4" y1="1670.2" x2="1895.4" y2="1720.9" stroke="#000" stroke-width="3.2"/>
<line x1="1878.4" y1="1670.2" x2="1912.4" y2="1670.2" stroke="#111" stroke-width="2.6"/>
<g transform="translate(1863.4,2205.5)">
<rect x="0.0" y="-487.3" width="64.0" height="495.3" fill="#fff" />
<rect x="0.0" y="-487.3" width="64.0" height="495.3" fill="url(#p1)" />
<rect x="0.0" y="-487.3" width="3.2" height="495.3" fill="#000" />
<rect x="58.6" y="-487.3" width="5.4" height="495.3" fill="#000" />
<rect x="0.0" y="-487.3" width="64.0" height="3.6" fill="#000" />
</g>
<text transform="translate(1888.1,1663.3) scale(1.36,1)" font-family='"Liberation Sans", sans-serif' font-size="48" font-weight="normal" font-style="normal" text-anchor="middle" >e</text>
<line x1="1969.9" y1="1667.1" x2="1969.9" y2="1710.9" stroke="#000" stroke-width="3.2"/>
<line x1="1952.9" y1="1667.1" x2="1986.9" y2="1667.1" stroke="#111" stroke-width="2.6"/>
<g transform="translate(1937.9,2205.5)">
<rect x="0.0" y="-497.3" width="64.0" height="505.3" fill="#fff" />
<rect x="0.0" y="-497.3" width="64.0" height="505.3" fill="url(#p2)" />
<rect x="0.0" y="-497.3" width="5.6" height="505.3" fill="#000" />
<rect x="60.6" y="-497.3" width="3.4" height="505.3" fill="#000" />
<rect x="0.0" y="-497.3" width="64.0" height="3.6" fill="#000" />
</g>
<text transform="translate(1965.7,1663.3) scale(1.36,1)" font-family='"Liberation Sans", sans-serif' font-size="48" font-weight="normal" font-style="normal" text-anchor="middle" >e</text>
<line x1="2046.2" y1="1607.8" x2="2046.2" y2="1655.5" stroke="#000" stroke-width="3.2"/>
<line x1="2029.2" y1="1607.8" x2="2063.2" y2="1607.8" stroke="#111" stroke-width="2.6"/>
<g transform="translate(2014.2,2205.5)">
<rect x="0.0" y="-552.7" width="64.0" height="560.7" fill="#fff" />
<rect x="0.0" y="-552.7" width="64.0" height="560.7" fill="url(#p3)" />
<rect x="0.0" y="-552.7" width="3.2" height="560.7" fill="#000" />
<rect x="58.4" y="-552.7" width="5.6" height="560.7" fill="#000" />
<rect x="0.0" y="-552.7" width="64.0" height="3.6" fill="#000" />
</g>
<text transform="translate(2045.7,1607.8) scale(1.36,1)" font-family='"Liberation Sans", sans-serif' font-size="48" font-weight="normal" font-style="normal" text-anchor="middle" >d</text>
<line x1="2120.6" y1="1566.5" x2="2120.6" y2="1620.3" stroke="#000" stroke-width="3.2"/>
<line x1="2103.6" y1="1566.5" x2="2137.6" y2="1566.5" stroke="#111" stroke-width="2.6"/>
<g transform="translate(2088.3,2205.5)">
<rect x="0.0" y="-587.9" width="64.5" height="595.9" fill="#fff" />
<rect x="0.0" y="-587.9" width="54.0" height="595.9" fill="url(#p4)" />
<rect x="0.0" y="-587.9" width="5.2" height="595.9" fill="#000" />
<rect x="60.9" y="-587.9" width="3.6" height="595.9" fill="#000" />
<rect x="0.0" y="-587.9" width="64.5" height="3.6" fill="#000" />
</g>
<text transform="translate(2119.5,1561.9) scale(1.36,1)" font-family='"Liberation Sans", sans-serif' font-size="48" font-weight="normal" font-style="normal" text-anchor="middle" >c</text>
<line x1="2196.9" y1="1508.4" x2="2196.9" y2="1552.2" stroke="#000" stroke-width="3.2"/>
<line x1="2179.9" y1="1508.4" x2="2213.9" y2="1508.4" stroke="#111" stroke-width="2.6"/>
<g transform="translate(2164.9,2205.5)">
<rect x="0.0" y="-656.0" width="64.0" height="664.0" fill="#fff" />
<rect x="0.0" y="-656.0" width="64.0" height="664.0" fill="url(#p5)" />
<rect x="0.0" y="-656.0" width="3.8" height="664.0" fill="#000" />
<rect x="60.6" y="-656.0" width="3.4" height="664.0" fill="#000" />
<rect x="0.0" y="-656.0" width="64.0" height="3.8" fill="#000" />
</g>
<text transform="translate(2195.2,1506.5) scale(1.36,1)" font-family='"Liberation Sans", sans-serif' font-size="48" font-weight="normal" font-style="normal" text-anchor="middle" >b</text>
<line x1="2272.4" y1="1456.8" x2="2272.4" y2="1505.6" stroke="#333" stroke-width="4.2"/>
<line x1="2255.4" y1="1456.8" x2="2289.4" y2="1456.8" stroke="#111" stroke-width="2.6"/>
<g transform="translate(2238.9,2205.5)">
<rect x="0.0" y="-702.6" width="67.0" height="710.6" fill="#fff" />
<rect x="0.0" y="-702.6" width="67.0" height="710.6" fill="#000" />
<rect x="7.0" y="-702.6" width="49.5" height="710.6" fill="url(#p6)" />
<rect x="57.9" y="-702.6" width="3.0" height="710.6" fill="#fff" />
<rect x="0.0" y="-702.6" width="7.5" height="710.6" fill="#000" />
<rect x="61.0" y="-702.6" width="6.0" height="710.6" fill="#000" />
<rect x="0.0" y="-702.6" width="67.0" height="4.5" fill="#000" />
</g>
<text transform="translate(2271.7,1453.0) scale(1.36,1)" font-family='"Liberation Sans", sans-serif' font-size="48" font-weight="normal" font-style="normal" text-anchor="middle" >a</text>
<line x1="293.2" y1="1204.2" x2="293.2" y2="2214.8" stroke="#1a1a1a" stroke-width="3.4"/>
<line x1="275.7" y1="2213.5" x2="2377.0" y2="2213.5" stroke="#0a0a0a" stroke-width="2.7"/>
<text transform="translate(245.2,2230.9) scale(1.275,1)" font-family='"Liberation Sans", sans-serif' font-size="51.5" font-weight="normal" font-style="normal" text-anchor="end" >0.0</text>
<line x1="275.7" y1="2019.8" x2="293.0" y2="2019.8" stroke="#333" stroke-width="2.8"/>
<text transform="translate(245.2,2037.2) scale(1.275,1)" font-family='"Liberation Sans", sans-serif' font-size="51.5" font-weight="normal" font-style="normal" text-anchor="end" >0.5</text>
<line x1="275.7" y1="1826.1" x2="293.0" y2="1826.1" stroke="#333" stroke-width="2.8"/>
<text transform="translate(245.2,1843.5) scale(1.275,1)" font-family='"Liberation Sans", sans-serif' font-size="51.5" font-weight="normal" font-style="normal" text-anchor="end" >1.0</text>
<line x1="275.7" y1="1632.4" x2="293.0" y2="1632.4" stroke="#333" stroke-width="2.8"/>
<text transform="translate(245.2,1649.8) scale(1.275,1)" font-family='"Liberation Sans", sans-serif' font-size="51.5" font-weight="normal" font-style="normal" text-anchor="end" >1.5</text>
<line x1="275.7" y1="1438.7" x2="293.0" y2="1438.7" stroke="#333" stroke-width="2.8"/>
<text transform="translate(245.2,1456.1) scale(1.275,1)" font-family='"Liberation Sans", sans-serif' font-size="51.5" font-weight="normal" font-style="normal" text-anchor="end" >2.0</text>
<line x1="275.7" y1="1245.0" x2="293.0" y2="1245.0" stroke="#333" stroke-width="2.8"/>
<text transform="translate(245.2,1262.4) scale(1.275,1)" font-family='"Liberation Sans", sans-serif' font-size="51.5" font-weight="normal" font-style="normal" text-anchor="end" >2.5</text>
<line x1="722.5" y1="2213.5" x2="722.5" y2="2226.5" stroke="#333" stroke-width="2.8"/>
<line x1="1385.0" y1="2213.5" x2="1385.0" y2="2226.5" stroke="#333" stroke-width="2.8"/>
<line x1="2045.3" y1="2213.5" x2="2045.3" y2="2226.5" stroke="#333" stroke-width="2.8"/>
<text transform="translate(335.5,1267.5) scale(1.3,1)" font-family='"Liberation Serif", serif' font-size="60" font-weight="bold" font-style="normal" text-anchor="start" >(B)</text>
<text transform="translate(76.00,1910.64) rotate(-90) scale(0.9891,1.275)" xml:space="preserve"><tspan font-family='"Liberation Serif", serif' font-size="62" font-weight="normal" font-style="italic">POD</tspan><tspan font-family='"Liberation Serif", serif' font-size="62" font-weight="normal" font-style="normal"> expression</tspan></text>
<line x1="496.0" y1="2846.7" x2="496.0" y2="2897.4" stroke="#000" stroke-width="3.2"/>
<line x1="479.0" y1="2846.7" x2="513.0" y2="2846.7" stroke="#111" stroke-width="2.6"/>
<g transform="translate(464.0,3261.2)">
<rect x="0.0" y="-366.5" width="64.0" height="392.5" fill="#fff" />
<rect x="0.0" y="-366.5" width="64.0" height="392.5" fill="url(#p0)" />
<rect x="0.0" y="-366.5" width="5.6" height="392.5" fill="#000" />
<rect x="60.8" y="-366.5" width="3.2" height="392.5" fill="#000" />
<rect x="0.0" y="-366.5" width="64.0" height="3.6" fill="#000" />
</g>
<text transform="translate(496.6,2824.5) scale(1.36,1)" font-family='"Liberation Sans", sans-serif' font-size="48" font-weight="normal" font-style="normal" text-anchor="middle" >g</text>
<line x1="572.7" y1="2634.4" x2="572.7" y2="2691.6" stroke="#000" stroke-width="3.2"/>
<line x1="555.7" y1="2634.4" x2="589.7" y2="2634.4" stroke="#111" stroke-width="2.6"/>
<g transform="translate(540.7,3261.2)">
<rect x="0.0" y="-572.3" width="64.0" height="598.3" fill="#fff" />
<rect x="0.0" y="-572.3" width="64.0" height="598.3" fill="url(#p1)" />
<rect x="0.0" y="-572.3" width="3.2" height="598.3" fill="#000" />
<rect x="58.6" y="-572.3" width="5.4" height="598.3" fill="#000" />
<rect x="0.0" y="-572.3" width="64.0" height="3.6" fill="#000" />
</g>
<text transform="translate(573.8,2625.6) scale(1.36,1)" font-family='"Liberation Sans", sans-serif' font-size="48" font-weight="normal" font-style="normal" text-anchor="middle" >f</text>
<line x1="647.2" y1="2625.6" x2="647.2" y2="2682.1" stroke="#000" stroke-width="3.2"/>
<line x1="630.2" y1="2625.6" x2="664.2" y2="2625.6" stroke="#111" stroke-width="2.6"/>
<g transform="translate(615.2,3261.2)">
<rect x="0.0" y="-581.8" width="64.0" height="607.8" fill="#fff" />
<rect x="0.0" y="-581.8" width="64.0" height="607.8" fill="url(#p2)" />
<rect x="0.0" y="-581.8" width="5.6" height="607.8" fill="#000" />
<rect x="60.6" y="-581.8" width="3.4" height="607.8" fill="#000" />
<rect x="0.0" y="-581.8" width="64.0" height="3.6" fill="#000" />
</g>
<text transform="translate(646.5,2622.9) scale(1.36,1)" font-family='"Liberation Sans", sans-serif' font-size="48" font-weight="normal" font-style="normal" text-anchor="middle" >e</text>
<line x1="723.5" y1="2556.8" x2="723.5" y2="2607.5" stroke="#000" stroke-width="3.2"/>
<line x1="706.5" y1="2556.8" x2="740.5" y2="2556.8" stroke="#111" stroke-width="2.6"/>
<g transform="translate(691.5,3261.2)">
<rect x="0.0" y="-656.4" width="64.0" height="682.4" fill="#fff" />
<rect x="0.0" y="-656.4" width="64.0" height="682.4" fill="url(#p3)" />
<rect x="0.0" y="-656.4" width="3.2" height="682.4" fill="#000" />
<rect x="58.4" y="-656.4" width="5.6" height="682.4" fill="#000" />
<rect x="0.0" y="-656.4" width="64.0" height="3.6" fill="#000" />
</g>
<text transform="translate(723.0,2554.9) scale(1.36,1)" font-family='"Liberation Sans", sans-serif' font-size="48" font-weight="normal" font-style="normal" text-anchor="middle" >d</text>
<line x1="797.9" y1="2528.9" x2="797.9" y2="2573.1" stroke="#000" stroke-width="3.2"/>
<line x1="780.9" y1="2528.9" x2="814.9" y2="2528.9" stroke="#111" stroke-width="2.6"/>
<g transform="translate(765.6,3261.2)">
<rect x="0.0" y="-690.8" width="64.5" height="716.8" fill="#fff" />
<rect x="0.0" y="-690.8" width="54.0" height="716.8" fill="url(#p4)" />
<rect x="0.0" y="-690.8" width="5.2" height="716.8" fill="#000" />
<rect x="60.9" y="-690.8" width="3.6" height="716.8" fill="#000" />
<rect x="0.0" y="-690.8" width="64.5" height="3.6" fill="#000" />
</g>
<text transform="translate(799.5,2525.4) scale(1.36,1)" font-family='"Liberation Sans", sans-serif' font-size="48" font-weight="normal" font-style="normal" text-anchor="middle" >c</text>
<line x1="874.2" y1="2510.9" x2="874.2" y2="2548.2" stroke="#000" stroke-width="3.2"/>
<line x1="857.2" y1="2510.9" x2="891.2" y2="2510.9" stroke="#111" stroke-width="2.6"/>
<g transform="translate(842.2,3261.2)">
<rect x="0.0" y="-715.7" width="64.0" height="741.7" fill="#fff" />
<rect x="0.0" y="-715.7" width="64.0" height="741.7" fill="url(#p5)" />
<rect x="0.0" y="-715.7" width="3.8" height="741.7" fill="#000" />
<rect x="60.6" y="-715.7" width="3.4" height="741.7" fill="#000" />
<rect x="0.0" y="-715.7" width="64.0" height="3.8" fill="#000" />
</g>
<text transform="translate(874.0,2509.0) scale(1.36,1)" font-family='"Liberation Sans", sans-serif' font-size="48" font-weight="normal" font-style="normal" text-anchor="middle" >b</text>
<line x1="949.7" y1="2479.5" x2="949.7" y2="2529.9" stroke="#333" stroke-width="4.2"/>
<line x1="932.7" y1="2479.5" x2="966.7" y2="2479.5" stroke="#111" stroke-width="2.6"/>
<g transform="translate(916.2,3261.2)">
<rect x="0.0" y="-734.0" width="67.0" height="760.0" fill="#fff" />
<rect x="0.0" y="-734.0" width="67.0" height="760.0" fill="#000" />
<rect x="7.0" y="-734.0" width="49.5" height="760.0" fill="url(#p6)" />
<rect x="57.9" y="-734.0" width="3.0" height="760.0" fill="#fff" />
<rect x="0.0" y="-734.0" width="7.5" height="760.0" fill="#000" />
<rect x="61.0" y="-734.0" width="6.0" height="760.0" fill="#000" />
<rect x="0.0" y="-734.0" width="67.0" height="4.5" fill="#000" />
</g>
<text transform="translate(950.5,2474.6) scale(1.36,1)" font-family='"Liberation Sans", sans-serif' font-size="48" font-weight="normal" font-style="normal" text-anchor="middle" >a</text>
<line x1="1157.5" y1="2850.5" x2="1157.5" y2="2897.4" stroke="#000" stroke-width="3.2"/>
<line x1="1140.5" y1="2850.5" x2="1174.5" y2="2850.5" stroke="#111" stroke-width="2.6"/>
<g transform="translate(1125.5,3261.2)">
<rect x="0.0" y="-366.5" width="64.0" height="392.5" fill="#fff" />
<rect x="0.0" y="-366.5" width="64.0" height="392.5" fill="url(#p0)" />
<rect x="0.0" y="-366.5" width="5.6" height="392.5" fill="#000" />
<rect x="60.8" y="-366.5" width="3.2" height="392.5" fill="#000" />
<rect x="0.0" y="-366.5" width="64.0" height="3.6" fill="#000" />
</g>
<text transform="translate(1156.6,2828.3) scale(1.36,1)" font-family='"Liberation Sans", sans-serif' font-size="48" font-weight="normal" font-style="normal" text-anchor="middle" >g</text>
<line x1="1234.2" y1="2706.7" x2="1234.2" y2="2750.9" stroke="#000" stroke-width="3.2"/>
<line x1="1217.2" y1="2706.7" x2="1251.2" y2="2706.7" stroke="#111" stroke-width="2.6"/>
<g transform="translate(1202.2,3261.2)">
<rect x="0.0" y="-513.0" width="64.0" height="539.0" fill="#fff" />
<rect x="0.0" y="-513.0" width="64.0" height="539.0" fill="url(#p1)" />
<rect x="0.0" y="-513.0" width="3.2" height="539.0" fill="#000" />
<rect x="58.6" y="-513.0" width="5.4" height="539.0" fill="#000" />
<rect x="0.0" y="-513.0" width="64.0" height="3.6" fill="#000" />
</g>
<text transform="translate(1235.8,2704.0) scale(1.36,1)" font-family='"Liberation Sans", sans-serif' font-size="48" font-weight="normal" font-style="normal" text-anchor="middle" >f</text>
<line x1="1308.7" y1="2665.8" x2="1308.7" y2="2713.4" stroke="#000" stroke-width="3.2"/>
<line x1="1291.7" y1="2665.8" x2="1325.7" y2="2665.8" stroke="#111" stroke-width="2.6"/>
<g transform="translate(1276.7,3261.2)">
<rect x="0.0" y="-550.5" width="64.0" height="576.5" fill="#fff" />
<rect x="0.0" y="-550.5" width="64.0" height="576.5" fill="url(#p2)" />
<rect x="0.0" y="-550.5" width="5.6" height="576.5" fill="#000" />
<rect x="60.6" y="-550.5" width="3.4" height="576.5" fill="#000" />
<rect x="0.0" y="-550.5" width="64.0" height="3.6" fill="#000" />
</g>
<text transform="translate(1306.5,2663.9) scale(1.36,1)" font-family='"Liberation Sans", sans-serif' font-size="48" font-weight="normal" font-style="normal" text-anchor="middle" >e</text>
<line x1="1385.0" y1="2613.0" x2="1385.0" y2="2654.2" stroke="#000" stroke-width="3.2"/>
<line x1="1368.0" y1="2613.0" x2="1402.0" y2="2613.0" stroke="#111" stroke-width="2.6"/>
<g transform="translate(1353.0,3261.2)">
<rect x="0.0" y="-609.7" width="64.0" height="635.7" fill="#fff" />
<rect x="0.0" y="-609.7" width="64.0" height="635.7" fill="url(#p3)" />
<rect x="0.0" y="-609.7" width="3.2" height="635.7" fill="#000" />
<rect x="58.4" y="-609.7" width="5.6" height="635.7" fill="#000" />
<rect x="0.0" y="-609.7" width="64.0" height="3.6" fill="#000" />
</g>
<text transform="translate(1378.4,2609.6) scale(1.36,1)" font-family='"Liberation Sans", sans-serif' font-size="48" font-weight="normal" font-style="normal" text-anchor="middle" >d</text>
<line x1="1459.3" y1="2553.7" x2="1459.3" y2="2600.6" stroke="#000" stroke-width="3.2"/>
<line x1="1442.3" y1="2553.7" x2="1476.3" y2="2553.7" stroke="#111" stroke-width="2.6"/>
<g transform="translate(1427.1,3261.2)">
<rect x="0.0" y="-663.3" width="64.5" height="689.3" fill="#fff" />
<rect x="0.0" y="-663.3" width="54.0" height="689.3" fill="url(#p4)" />
<rect x="0.0" y="-663.3" width="5.2" height="689.3" fill="#000" />
<rect x="60.9" y="-663.3" width="3.6" height="689.3" fill="#000" />
<rect x="0.0" y="-663.3" width="64.5" height="3.6" fill="#000" />
</g>
<text transform="translate(1459.5,2551.1) scale(1.36,1)" font-family='"Liberation Sans", sans-serif' font-size="48" font-weight="normal" font-style="normal" text-anchor="middle" >c</text>
<line x1="1535.7" y1="2528.9" x2="1535.7" y2="2569.3" stroke="#000" stroke-width="3.2"/>
<line x1="1518.7" y1="2528.9" x2="1552.7" y2="2528.9" stroke="#111" stroke-width="2.6"/>
<g transform="translate(1503.7,3261.2)">
<rect x="0.0" y="-694.6" width="64.0" height="720.6" fill="#fff" />
<rect x="0.0" y="-694.6" width="64.0" height="720.6" fill="url(#p5)" />
<rect x="0.0" y="-694.6" width="3.8" height="720.6" fill="#000" />
<rect x="60.6" y="-694.6" width="3.4" height="720.6" fill="#000" />
<rect x="0.0" y="-694.6" width="64.0" height="3.8" fill="#000" />
</g>
<text transform="translate(1536.0,2527.0) scale(1.36,1)" font-family='"Liberation Sans", sans-serif' font-size="48" font-weight="normal" font-style="normal" text-anchor="middle" >b</text>
<line x1="1611.2" y1="2510.9" x2="1611.2" y2="2560.8" stroke="#333" stroke-width="4.2"/>
<line x1="1594.2" y1="2510.9" x2="1628.2" y2="2510.9" stroke="#111" stroke-width="2.6"/>
<g transform="translate(1577.7,3261.2)">
<rect x="0.0" y="-703.1" width="67.0" height="729.1" fill="#fff" />
<rect x="0.0" y="-703.1" width="67.0" height="729.1" fill="#000" />
<rect x="7.0" y="-703.1" width="49.5" height="729.1" fill="url(#p6)" />
<rect x="57.9" y="-703.1" width="3.0" height="729.1" fill="#fff" />
<rect x="0.0" y="-703.1" width="7.5" height="729.1" fill="#000" />
<rect x="61.0" y="-703.1" width="6.0" height="729.1" fill="#000" />
<rect x="0.0" y="-703.1" width="67.0" height="4.5" fill="#000" />
</g>
<text transform="translate(1610.5,2510.1) scale(1.36,1)" font-family='"Liberation Sans", sans-serif' font-size="48" font-weight="normal" font-style="normal" text-anchor="middle" >a</text>
<line x1="1818.7" y1="2850.5" x2="1818.7" y2="2897.4" stroke="#000" stroke-width="3.2"/>
<line x1="1801.7" y1="2850.5" x2="1835.7" y2="2850.5" stroke="#111" stroke-width="2.6"/>
<g transform="translate(1786.7,3261.2)">
<rect x="0.0" y="-366.5" width="64.0" height="392.5" fill="#fff" />
<rect x="0.0" y="-366.5" width="64.0" height="392.5" fill="url(#p0)" />
<rect x="0.0" y="-366.5" width="5.6" height="392.5" fill="#000" />
<rect x="60.8" y="-366.5" width="3.2" height="392.5" fill="#000" />
<rect x="0.0" y="-366.5" width="64.0" height="3.6" fill="#000" />
</g>
<text transform="translate(1823.1,2848.2) scale(1.36,1)" font-family='"Liberation Sans", sans-serif' font-size="48" font-weight="normal" font-style="normal" text-anchor="middle" >f</text>
<line x1="1895.4" y1="2737.7" x2="1895.4" y2="2781.9" stroke="#000" stroke-width="3.2"/>
<line x1="1878.4" y1="2737.7" x2="1912.4" y2="2737.7" stroke="#111" stroke-width="2.6"/>
<g transform="translate(1863.4,3261.2)">
<rect x="0.0" y="-482.0" width="64.0" height="508.0" fill="#fff" />
<rect x="0.0" y="-482.0" width="64.0" height="508.0" fill="url(#p1)" />
<rect x="0.0" y="-482.0" width="3.2" height="508.0" fill="#000" />
<rect x="58.6" y="-482.0" width="5.4" height="508.0" fill="#000" />
<rect x="0.0" y="-482.0" width="64.0" height="3.6" fill="#000" />
</g>
<text transform="translate(1893.8,2729.6) scale(1.36,1)" font-family='"Liberation Sans", sans-serif' font-size="48" font-weight="normal" font-style="normal" text-anchor="middle" >e</text>
<line x1="1969.9" y1="2716.3" x2="1969.9" y2="2763.1" stroke="#000" stroke-width="3.2"/>
<line x1="1952.9" y1="2716.3" x2="1986.9" y2="2716.3" stroke="#111" stroke-width="2.6"/>
<g transform="translate(1937.9,3261.2)">
<rect x="0.0" y="-500.8" width="64.0" height="526.8" fill="#fff" />
<rect x="0.0" y="-500.8" width="64.0" height="526.8" fill="url(#p2)" />
<rect x="0.0" y="-500.8" width="5.6" height="526.8" fill="#000" />
<rect x="60.6" y="-500.8" width="3.4" height="526.8" fill="#000" />
<rect x="0.0" y="-500.8" width="64.0" height="3.6" fill="#000" />
</g>
<text transform="translate(1966.5,2705.9) scale(1.36,1)" font-family='"Liberation Sans", sans-serif' font-size="48" font-weight="normal" font-style="normal" text-anchor="middle" >d</text>
<line x1="2046.2" y1="2672.3" x2="2046.2" y2="2712.7" stroke="#000" stroke-width="3.2"/>
<line x1="2029.2" y1="2672.3" x2="2063.2" y2="2672.3" stroke="#111" stroke-width="2.6"/>
<g transform="translate(2014.2,3261.2)">
<rect x="0.0" y="-551.2" width="64.0" height="577.2" fill="#fff" />
<rect x="0.0" y="-551.2" width="64.0" height="577.2" fill="url(#p3)" />
<rect x="0.0" y="-551.2" width="3.2" height="577.2" fill="#000" />
<rect x="58.4" y="-551.2" width="5.6" height="577.2" fill="#000" />
<rect x="0.0" y="-551.2" width="64.0" height="3.6" fill="#000" />
</g>
<text transform="translate(2043.0,2665.8) scale(1.36,1)" font-family='"Liberation Sans", sans-serif' font-size="48" font-weight="normal" font-style="normal" text-anchor="middle" >c</text>
<line x1="2120.6" y1="2587.4" x2="2120.6" y2="2635.0" stroke="#000" stroke-width="3.2"/>
<line x1="2103.6" y1="2587.4" x2="2137.6" y2="2587.4" stroke="#111" stroke-width="2.6"/>
<g transform="translate(2088.3,3261.2)">
<rect x="0.0" y="-628.9" width="64.5" height="654.9" fill="#fff" />
<rect x="0.0" y="-628.9" width="54.0" height="654.9" fill="url(#p4)" />
<rect x="0.0" y="-628.9" width="5.2" height="654.9" fill="#000" />
<rect x="60.9" y="-628.9" width="3.6" height="654.9" fill="#000" />
<rect x="0.0" y="-628.9" width="64.5" height="3.6" fill="#000" />
</g>
<text transform="translate(2119.5,2581.6) scale(1.36,1)" font-family='"Liberation Sans", sans-serif' font-size="48" font-weight="normal" font-style="normal" text-anchor="middle" >b</text>
<line x1="2196.9" y1="2572.8" x2="2196.9" y2="2622.8" stroke="#000" stroke-width="3.2"/>
<line x1="2179.9" y1="2572.8" x2="2213.9" y2="2572.8" stroke="#111" stroke-width="2.6"/>
<g transform="translate(2164.9,3261.2)">
<rect x="0.0" y="-641.1" width="64.0" height="667.1" fill="#fff" />
<rect x="0.0" y="-641.1" width="64.0" height="667.1" fill="url(#p5)" />
<rect x="0.0" y="-641.1" width="3.8" height="667.1" fill="#000" />
<rect x="60.6" y="-641.1" width="3.4" height="667.1" fill="#000" />
<rect x="0.0" y="-641.1" width="64.0" height="3.8" fill="#000" />
</g>
<text transform="translate(2196.0,2565.2) scale(1.36,1)" font-family='"Liberation Sans", sans-serif' font-size="48" font-weight="normal" font-style="normal" text-anchor="middle" >a</text>
<line x1="2272.4" y1="2563.7" x2="2272.4" y2="2619.7" stroke="#333" stroke-width="4.2"/>
<line x1="2255.4" y1="2563.7" x2="2289.4" y2="2563.7" stroke="#111" stroke-width="2.6"/>
<g transform="translate(2238.9,3261.2)">
<rect x="0.0" y="-644.2" width="67.0" height="670.2" fill="#fff" />
<rect x="0.0" y="-644.2" width="67.0" height="670.2" fill="#000" />
<rect x="7.0" y="-644.2" width="49.5" height="670.2" fill="url(#p6)" />
<rect x="57.9" y="-644.2" width="3.0" height="670.2" fill="#fff" />
<rect x="0.0" y="-644.2" width="7.5" height="670.2" fill="#000" />
<rect x="61.0" y="-644.2" width="6.0" height="670.2" fill="#000" />
<rect x="0.0" y="-644.2" width="67.0" height="4.5" fill="#000" />
</g>
<text transform="translate(2267.8,2559.8) scale(1.36,1)" font-family='"Liberation Sans", sans-serif' font-size="48" font-weight="normal" font-style="normal" text-anchor="middle" >a</text>
<line x1="293.2" y1="2277.2" x2="293.2" y2="3288.5" stroke="#1a1a1a" stroke-width="3.4"/>
<line x1="275.7" y1="3287.2" x2="2377.0" y2="3287.2" stroke="#666" stroke-width="2.6"/>
<text transform="translate(245.2,3304.6) scale(1.275,1)" font-family='"Liberation Sans", sans-serif' font-size="51.5" font-weight="normal" font-style="normal" text-anchor="end" >0.0</text>
<line x1="275.7" y1="3093.0" x2="293.0" y2="3093.0" stroke="#333" stroke-width="2.8"/>
<text transform="translate(245.2,3110.4) scale(1.275,1)" font-family='"Liberation Sans", sans-serif' font-size="51.5" font-weight="normal" font-style="normal" text-anchor="end" >0.5</text>
<line x1="275.7" y1="2898.8" x2="293.0" y2="2898.8" stroke="#333" stroke-width="2.8"/>
<text transform="translate(245.2,2916.2) scale(1.275,1)" font-family='"Liberation Sans", sans-serif' font-size="51.5" font-weight="normal" font-style="normal" text-anchor="end" >1.0</text>
<line x1="275.7" y1="2704.6" x2="293.0" y2="2704.6" stroke="#333" stroke-width="2.8"/>
<text transform="translate(245.2,2722.0) scale(1.275,1)" font-family='"Liberation Sans", sans-serif' font-size="51.5" font-weight="normal" font-style="normal" text-anchor="end" >1.5</text>
<line x1="275.7" y1="2510.4" x2="293.0" y2="2510.4" stroke="#333" stroke-width="2.8"/>
<text transform="translate(245.2,2527.8) scale(1.275,1)" font-family='"Liberation Sans", sans-serif' font-size="51.5" font-weight="normal" font-style="normal" text-anchor="end" >2.0</text>
<line x1="275.7" y1="2316.2" x2="293.0" y2="2316.2" stroke="#333" stroke-width="2.8"/>
<text transform="translate(245.2,2333.6) scale(1.275,1)" font-family='"Liberation Sans", sans-serif' font-size="51.5" font-weight="normal" font-style="normal" text-anchor="end" >2.5</text>
<line x1="722.5" y1="3287.2" x2="722.5" y2="3300.2" stroke="#333" stroke-width="2.8"/>
<line x1="1385.0" y1="3287.2" x2="1385.0" y2="3300.2" stroke="#333" stroke-width="2.8"/>
<line x1="2045.3" y1="3287.2" x2="2045.3" y2="3300.2" stroke="#333" stroke-width="2.8"/>
<text transform="translate(335.5,2338.7) scale(1.3,1)" font-family='"Liberation Serif", serif' font-size="60" font-weight="bold" font-style="normal" text-anchor="start" >(C)</text>
<text transform="translate(76.00,2977.01) rotate(-90) scale(1.0009,1.275)" xml:space="preserve"><tspan font-family='"Liberation Serif", serif' font-size="62" font-weight="normal" font-style="italic">CAT</tspan><tspan font-family='"Liberation Serif", serif' font-size="62" font-weight="normal" font-style="normal"> expression</tspan></text>
<text transform="translate(533.42,3388.00) scale(1.2623,1.0)" xml:space="preserve"><tspan font-family='"Liberation Serif", serif' font-size="65" font-weight="normal" font-style="normal">No Salinity</tspan></text>
<text transform="translate(1093.74,3388.00) scale(1.2454,1.0)" xml:space="preserve"><tspan font-family='"Liberation Serif", serif' font-size="65" font-weight="normal" font-style="normal">Moderate Salinity</tspan></text>
<text transform="translate(1796.92,3388.00) scale(1.2498,1.0)" xml:space="preserve"><tspan font-family='"Liberation Serif", serif' font-size="65" font-weight="normal" font-style="normal">Severe Salinity</tspan></text>
<text transform="translate(1079.27,3511.00) scale(1.2974,1.0)" xml:space="preserve"><tspan font-family='"Liberation Serif", serif' font-size="63" font-weight="bold" font-style="normal">Salinity Levels</tspan></text>
</g>
</svg></body></html>
